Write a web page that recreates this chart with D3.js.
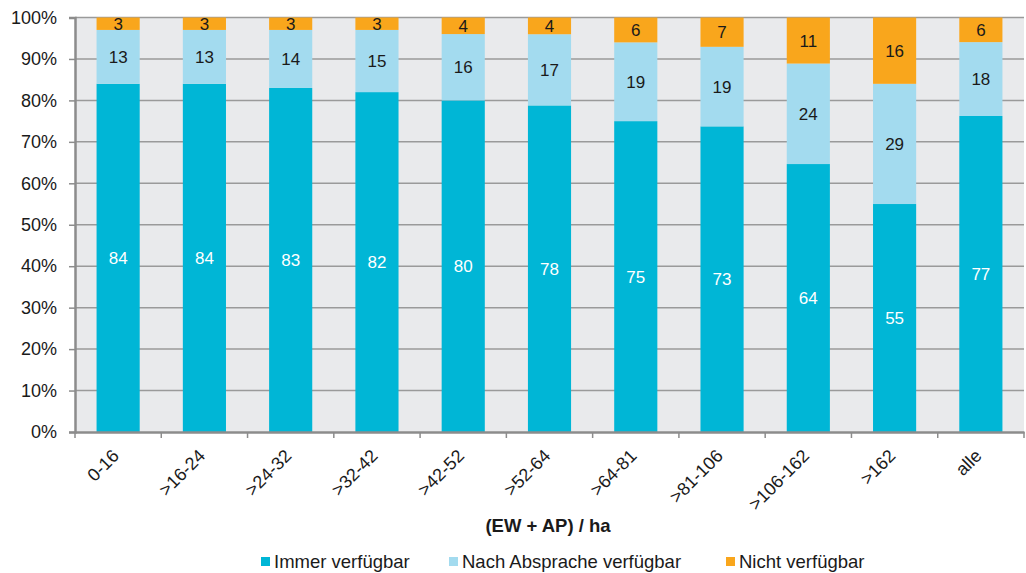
<!DOCTYPE html><html><head><meta charset="utf-8">
<script src="https://cdn.jsdelivr.net/npm/d3@7"></script>
<style>
body { margin: 0; background: #fff; }
text { font-family: "Liberation Sans", Arial, sans-serif; }
</style>
</head>
<body><svg id="chart"></svg>
<script>

var categories = ["0-16", ">16-24", ">24-32", ">32-42", ">42-52", ">52-64", ">64-81", ">81-106", ">106-162", ">162", "alle"];
var immer = [84, 84, 83, 82, 80, 78, 75, 73, 64, 55, 77];
var nachAbsprache = [13, 13, 14, 15, 16, 17, 19, 19, 24, 29, 18];
var nicht = [3, 3, 3, 3, 4, 4, 6, 7, 11, 16, 6];
var seriesNames = ["Immer verfügbar", "Nach Absprache verfügbar", "Nicht verfügbar"];
var yTicks = [0, 0.1, 0.2, 0.3, 0.4, 0.5, 0.6, 0.7, 0.8, 0.9, 1];

var colors = ["#00b6d6", "#a3dbef", "#f9a61c"],
    labelColors = ["#fff", "#1a1a1a", "#1a1a1a"];

var width = 1026, height = 573;
var plotLeft = 75, plotRight = 1024, plotTop = 17.5, plotBottom = 432;

var svg = d3.select("#chart")
    .attr("width", width)
    .attr("height", height);

var rows = categories.map(function(c, i) {
  return { cat: c, s0: immer[i], s1: nachAbsprache[i], s2: nicht[i] };
});

var stack = d3.stack().keys(["s0", "s1", "s2"]).offset(d3.stackOffsetExpand);
var layers = stack(rows);

var x = d3.scaleBand().domain(categories).range([plotLeft, plotRight]).paddingInner(0.5).paddingOuter(0.25);
var xb = d3.scaleBand().domain(categories).range([plotLeft, plotRight]);
var y = d3.scaleLinear().domain([0, 1]).range([plotBottom, plotTop]);

// plot background
svg.append("rect")
  .attr("x", plotLeft).attr("y", plotTop)
  .attr("width", plotRight - plotLeft).attr("height", plotBottom - plotTop)
  .attr("fill", "#e9eaec");

// gridlines
svg.selectAll(".grid")
  .data(yTicks.slice(1))
  .enter().append("line")
    .attr("x1", plotLeft).attr("x2", plotRight)
    .attr("y1", function(d) { return y(d); })
    .attr("y2", function(d) { return y(d); })
    .attr("stroke", "#9a9a9a")
    .attr("stroke-width", 1.5);

// bars
var g = svg.selectAll(".layer")
  .data(layers)
  .enter().append("g")
    .attr("fill", function(d, i) { return colors[i]; });

g.selectAll("rect")
  .data(function(d) { return d; })
  .enter().append("rect")
    .attr("x", function(d) { return x(d.data.cat); })
    .attr("width", x.bandwidth())
    .attr("y", function(d) { return y(d[1]); })
    .attr("height", function(d) { return y(d[0]) - y(d[1]); });

// value labels
layers.forEach(function(layer, li) {
  svg.selectAll(".lbl" + li)
    .data(layer)
    .enter().append("text")
      .attr("x", function(d) { return x(d.data.cat) + x.bandwidth() / 2; })
      .attr("y", function(d) { return (y(d[0]) + y(d[1])) / 2; })
      .attr("dy", "0.36em")
      .attr("text-anchor", "middle")
      .attr("fill", labelColors[li])
      .style("font-size", "17px")
      .text(function(d) { return d.data[layer.key]; });
});

// y axis
var yAxis = svg.append("g")
  .attr("transform", "translate(" + plotLeft + ",0)")
  .call(d3.axisLeft(y).tickValues(yTicks).tickFormat(d3.format(".0%")).tickSize(6).tickPadding(12));
yAxis.select(".domain").attr("stroke", "#8c8c8c").attr("stroke-width", 2.5);
yAxis.selectAll(".tick line").attr("stroke", "#8c8c8c").attr("stroke-width", 1.5);
yAxis.selectAll(".tick text").style("font-size", "18px").attr("fill", "#1a1a1a")
  .style("font-family", "'Liberation Sans', Arial, sans-serif");

// x axis
var xAxis = svg.append("g")
  .attr("transform", "translate(0," + plotBottom + ")")
  .call(d3.axisBottom(xb).tickSize(0).tickFormat(""));
xAxis.select(".domain").attr("stroke", "#8c8c8c").attr("stroke-width", 2.5);

svg.selectAll(".xtick")
  .data(categories.concat(["end"]))
  .enter().append("line")
    .attr("x1", function(d, i) { return plotLeft + i * xb.bandwidth(); })
    .attr("x2", function(d, i) { return plotLeft + i * xb.bandwidth(); })
    .attr("y1", plotBottom).attr("y2", plotBottom + 6)
    .attr("stroke", "#8c8c8c").attr("stroke-width", 1.5);

svg.selectAll(".xlab")
  .data(categories)
  .enter().append("text")
    .attr("text-anchor", "end")
    .attr("transform", function(d) {
      return "translate(" + (x(d) + x.bandwidth() / 2 + 2) + "," + (plotBottom + 25) + ") rotate(-45)";
    })
    .attr("fill", "#1a1a1a")
    .style("font-size", "18px")
    .text(function(d) { return d; });

// axis title
svg.append("text")
  .attr("x", 548)
  .attr("y", 532)
  .attr("text-anchor", "middle")
  .attr("fill", "#1a1a1a")
  .style("font-size", "18.5px")
  .style("font-weight", "bold")
  .text("(EW + AP) / ha");

// legend
var legendX = [261, 449, 726];
var leg = svg.selectAll(".legend")
  .data(seriesNames)
  .enter().append("g")
    .attr("transform", function(d, i) { return "translate(" + legendX[i] + ",557)"; });
leg.append("rect")
  .attr("width", 9).attr("height", 9)
  .attr("fill", function(d, i) { return colors[i]; });
leg.append("text")
  .attr("x", 13).attr("y", 11)
  .attr("fill", "#1a1a1a")
  .style("font-size", "18.5px")
  .text(function(d) { return d; });

</script>
</body></html>
